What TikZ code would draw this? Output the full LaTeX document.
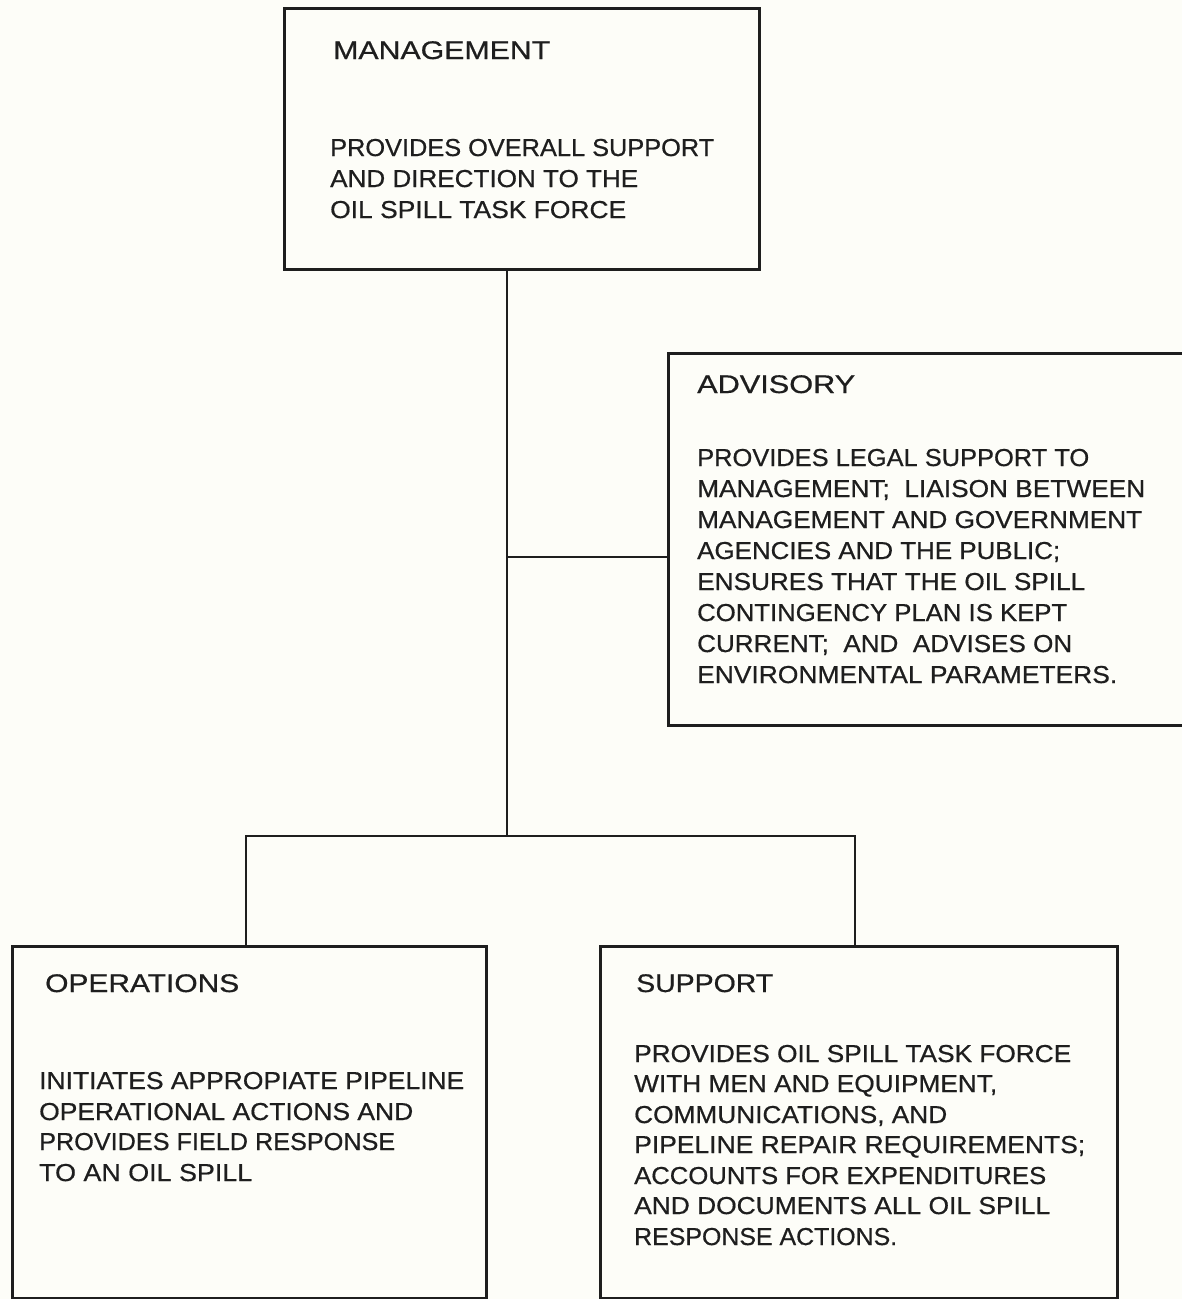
\documentclass[tikz,border=0pt]{standalone}
\usepackage{fontspec}
\setmainfont{Liberation Sans}
\newfontfamily\inkfont{Liberation Sans}[FakeBold=0.6]
\usepackage{graphicx}
\definecolor{paper}{RGB}{253,253,248}
\definecolor{ink}{RGB}{30,30,30}
\newcommand\fitw[2]{\resizebox{#1pt}{\height}{#2}}
\begin{document}
\begin{tikzpicture}[x=1pt,y=-1pt,
  box/.style={draw=ink, line width=3pt, rectangle, anchor=north west, inner sep=0pt},
  link/.style={draw=ink, line width=2pt},
  txt/.style={anchor=base west, inner sep=0pt, text=ink, font=\inkfont\fontsize{24.5}{30}\selectfont},
  ttl/.style={txt, font=\inkfont\fontsize{25.5}{30}\selectfont}]
\fill[paper] (0,0) rectangle (1182,1299);
\useasboundingbox (0,0) rectangle (1182,1299);
\clip (0,0) rectangle (1182,1299);

% boxes
\node[box, minimum width=475pt, minimum height=261pt] (mgmt) at (283,7) {};
\node[box, minimum width=540pt, minimum height=372pt] (adv) at (667,352) {};
\node[box, minimum width=474pt, minimum height=352pt] (ops) at (11,945) {};
\node[box, minimum width=517pt, minimum height=352pt] (sup) at (599,945) {};

% junctions
\coordinate (j1) at (507,557);
\coordinate (j2) at (507,836);
\coordinate (jl) at (246,836);
\coordinate (jr) at (855,836);

% connectors
\draw[link] (j2 |- mgmt.south) -- (j2);
\draw[link] (j1) -- (j1 -| adv.west);
\draw[link] (jl |- ops.north) -- (jl) -- (jr) -- (jr |- sup.north);

% management text
\node[ttl] (m0) at (333,59) {\fitw{217}{MANAGEMENT}};
\node[txt] (m1) at (330,156) {\fitw{384}{PROVIDES OVERALL SUPPORT}};
\node[txt] (m2) at (330,187) {\fitw{308}{AND DIRECTION TO THE}};
\node[txt] (m3) at (330,218) {\fitw{296}{OIL SPILL TASK FORCE}};

% advisory text
\node[ttl] (a0) at (697,393) {\fitw{158}{ADVISORY}};
\node[txt] (a1) at (697,466) {\fitw{392}{PROVIDES LEGAL SUPPORT TO}};
\node[txt] (a2) at (697,497) {\fitw{448}{MANAGEMENT;~ LIAISON BETWEEN}};
\node[txt] (a3) at (697,528) {\fitw{445}{MANAGEMENT AND GOVERNMENT}};
\node[txt] (a4) at (697,559) {\fitw{363}{AGENCIES AND THE PUBLIC;}};
\node[txt] (a5) at (697,590) {\fitw{388}{ENSURES THAT THE OIL SPILL}};
\node[txt] (a6) at (697,621) {\fitw{370}{CONTINGENCY PLAN IS KEPT}};
\node[txt] (a7) at (697,652) {\fitw{375}{CURRENT;~ AND~ ADVISES ON}};
\node[txt] (a8) at (697,683) {\fitw{420}{ENVIRONMENTAL PARAMETERS.}};

% operations text
\node[ttl] (o0) at (45,992) {\fitw{194}{OPERATIONS}};
\node[txt] (o1) at (39,1089) {\fitw{425}{INITIATES APPROPIATE PIPELINE}};
\node[txt] (o2) at (39,1120) {\fitw{374}{OPERATIONAL ACTIONS AND}};
\node[txt] (o3) at (39,1150) {\fitw{356}{PROVIDES FIELD RESPONSE}};
\node[txt] (o4) at (39,1181) {\fitw{213}{TO AN OIL SPILL}};

% support text
\node[ttl] (s0) at (636,992) {\fitw{137}{SUPPORT}};
\node[txt] (s1) at (634,1062) {\fitw{437}{PROVIDES OIL SPILL TASK FORCE}};
\node[txt] (s2) at (634,1092) {\fitw{363}{WITH MEN AND EQUIPMENT,}};
\node[txt] (s3) at (634,1123) {\fitw{313}{COMMUNICATIONS, AND}};
\node[txt] (s4) at (634,1153) {\fitw{451}{PIPELINE REPAIR REQUIREMENTS;}};
\node[txt] (s5) at (634,1184) {\fitw{412}{ACCOUNTS FOR EXPENDITURES}};
\node[txt] (s6) at (634,1214) {\fitw{416}{AND DOCUMENTS ALL OIL SPILL}};
\node[txt] (s7) at (634,1245) {\fitw{263}{RESPONSE ACTIONS.}};
\end{tikzpicture}
\end{document}
